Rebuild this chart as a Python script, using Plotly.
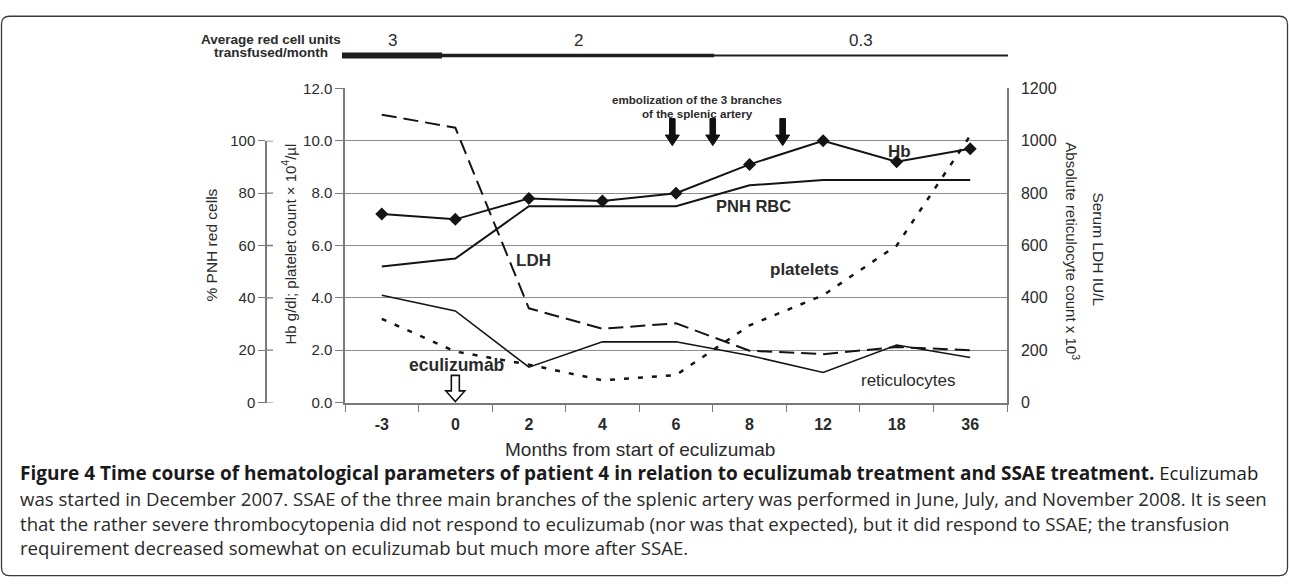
import plotly.graph_objects as go

# ---------------- data ----------------
months = ["-3", "0", "2", "4", "6", "8", "12", "18", "36"]
hb = [7.2, 7.0, 7.8, 7.7, 8.0, 9.1, 10.0, 9.2, 9.7]            # g/dl (left inner axis)
platelets = [3.2, 1.95, 1.45, 0.85, 1.05, 2.95, 4.1, 6.0, 10.2]  # x10^4/ul (left inner axis)
pnh_rbc = [52, 55, 75, 75, 75, 83, 85, 85, 85]                  # % PNH red cells (outer left axis)
ldh = [1100, 1050, 360, 282, 303, 198, 185, 212, 200]           # IU/L (right axis)
retic = [410, 350, 135, 232, 232, 180, 115, 220, 172]           # x10^3 (right axis)

hb_ticks = [0, 2, 4, 6, 8, 10, 12]
pnh_ticks = [0, 20, 40, 60, 80, 100]
right_ticks = [0, 200, 400, 600, 800, 1000, 1200]

transfusion_labels = ["3", "2", "0.3"]
caption_bold = ("Figure 4 Time course of hematological parameters of patient 4 in relation "
                "to eculizumab treatment and SSAE treatment.")
caption_lines = [
    " Eculizumab",
    "was started in December 2007. SSAE of the three main branches of the splenic artery was "
    "performed in June, July, and November 2008. It is seen",
    "that the rather severe thrombocytopenia did not respond to eculizumab (nor was that expected), "
    "but it did respond to SSAE; the transfusion",
    "requirement decreased somewhat on eculizumab but much more after SSAE.",
]

# ---------------- geometry helpers ----------------
W, H = 1290, 587
def px(x):
    return x / W
def py(y):
    return 1 - y / H

X0, X1, Y0, Y1 = 345, 1007, 406, 82  # plot area in pixels
CAT_W = (X1 - X0) / len(months)
def cat_px(idx):
    return X0 + (idx + 0.5) * CAT_W

AX = "#7a7a7a"
TXT = "#2b2b2b"
LINE = "#141414"
FONT = "Liberation Sans, Arial, sans-serif"

fig = go.Figure()

fig.add_trace(go.Scatter(x=months, y=pnh_rbc, yaxis="y3", mode="lines",
                         line=dict(color=LINE, width=2), name="PNH RBC", showlegend=False))
fig.add_trace(go.Scatter(x=months, y=ldh, yaxis="y2", mode="lines",
                         line=dict(color=LINE, width=2, dash="15px,7px"), name="LDH", showlegend=False))
fig.add_trace(go.Scatter(x=months, y=retic, yaxis="y2", mode="lines",
                         line=dict(color=LINE, width=1.6), name="reticulocytes", showlegend=False))
fig.add_trace(go.Scatter(x=months, y=platelets, yaxis="y", mode="lines",
                         line=dict(color=LINE, width=2.5, dash="5px,9px"), name="platelets",
                         showlegend=False))
fig.add_trace(go.Scatter(x=months, y=hb, yaxis="y", mode="lines+markers",
                         line=dict(color=LINE, width=2),
                         marker=dict(symbol="diamond", size=10, color=LINE),
                         name="Hb", showlegend=False))

fig.update_layout(
    width=W, height=H, autosize=False,
    margin=dict(l=0, r=0, t=0, b=0),
    paper_bgcolor="white", plot_bgcolor="rgba(0,0,0,0)",
    font=dict(family=FONT, color=TXT),
    xaxis=dict(
        domain=[px(X0), px(X1)], type="category", categoryorder="array", categoryarray=months,
        range=[-0.5, len(months) - 0.5], tickson="boundaries", ticks="outside", ticklen=8,
        tickcolor=AX, tickwidth=1.3, showline=True, linecolor=AX, linewidth=1.5,
        showgrid=False, zeroline=False, anchor="y",
        tickfont=dict(size=16, weight="bold", color=TXT, family="Liberation Sans Narrow, " + FONT),
        ticklabelstandoff=6,
    ),
    yaxis=dict(
        domain=[py(Y0), py(Y1)], range=[0, 12], tickvals=hb_ticks,
        ticktext=["%.1f" % v for v in hb_ticks], ticks="outside", ticklen=8, tickcolor=AX,
        showline=True, linecolor=AX, linewidth=1.5, showgrid=True, gridcolor="#8c8c8c",
        gridwidth=1.3, zeroline=False, tickfont=dict(size=15, color=TXT), anchor="x",
    ),
    yaxis2=dict(
        overlaying="y", side="right", range=[0, 1200], tickvals=right_ticks, ticks="",
        ticklen=0, showline=True, linecolor=AX, linewidth=1.5, showgrid=False, zeroline=False,
        tickfont=dict(size=16, color=TXT), anchor="x", ticklabelstandoff=9,
    ),
    yaxis3=dict(
        domain=[py(Y0), py(Y0 - (Y0 - Y1) * 100 / 120)], range=[0, 100], tickvals=pnh_ticks,
        ticks="outside", ticklen=7, tickcolor=AX, showline=True, linecolor=AX, linewidth=1.5,
        showgrid=False, zeroline=False, anchor="free", position=px(266),
        tickfont=dict(size=15, color=TXT),
    ),
)

shapes = []
# inner halves of the crossing ticks on the % axis
for v in pnh_ticks:
    shapes.append(dict(type="line", xref="paper", yref="y3", x0=px(266), x1=px(273), y0=v, y1=v,
                       line=dict(color=AX, width=1.3)))

# transfusion bar segments
bar_segments = [(342, 442, 6), (442, 714, 3.5), (714, 1008, 2)]
for (a, b, w) in bar_segments:
    shapes.append(dict(type="line", xref="paper", yref="paper", x0=px(a), x1=px(b),
                       y0=py(48), y1=py(48), line=dict(color="#1e1e1e", width=w)))

# embolization arrows (filled)
def down_arrow(cx, top, bot, half_shaft, half_head, head_len):
    hy = bot - head_len
    pts = [(cx - half_shaft, top), (cx + half_shaft, top), (cx + half_shaft, hy),
           (cx + half_head, hy), (cx, bot), (cx - half_head, hy), (cx - half_shaft, hy)]
    return "M " + " L ".join("%.5f,%.5f" % (px(x), py(y)) for x, y in pts) + " Z"

for idx in [3.95, 4.5, 5.45]:
    shapes.append(dict(type="path", xref="paper", yref="paper",
                       path=down_arrow(cat_px(idx), 113, 141, 2.8, 7, 11),
                       fillcolor="#111", line=dict(color="#111", width=1)))
# eculizumab hollow arrow
shapes.append(dict(type="path", xref="paper", yref="paper",
                   path=down_arrow(cat_px(1), 378, 405, 4, 9.5, 11),
                   fillcolor="white", line=dict(color="#111", width=1.6)))

# figure frame (rounded)
r = 8
L, T, R, B = 1.5, 7.5, 1287.5, 584.5
frame = ("M %f,%f L %f,%f Q %f,%f %f,%f L %f,%f Q %f,%f %f,%f L %f,%f Q %f,%f %f,%f L %f,%f Q %f,%f %f,%f Z" % (
    px(L), py(T + r), px(L), py(B - r), px(L), py(B), px(L + r), py(B),
    px(R - r), py(B), px(R), py(B), px(R), py(B - r),
    px(R), py(T + r), px(R), py(T), px(R - r), py(T),
    px(L + r), py(T), px(L), py(T), px(L), py(T + r)))
shapes.append(dict(type="path", xref="paper", yref="paper", path=frame,
                   line=dict(color="#3a3a3a", width=1.3)))

fig.update_layout(shapes=shapes)

ann = []
def text(x, y, s, size=15, bold=False, angle=0, xanchor="center", color=TXT, family=FONT):
    ann.append(dict(xref="paper", yref="paper", x=px(x), y=py(y), text=s, showarrow=False,
                    xanchor=xanchor, yanchor="middle", textangle=angle,
                    font=dict(size=size, color=color, family=family,
                              weight="bold" if bold else "normal")))

# axis titles
text(212, 244, "% PNH red cells", size=15.5, angle=-90)
text(289, 243, "Hb g/dl; platelet count × 10<sup>4</sup>/µl", size=15, angle=-90)
text(1073, 250, "Absolute reticulocyte count x 10<sup>3</sup>", size=15, angle=90)
text(1099, 248, "Serum LDH IU/L", size=15.5, angle=90)
text(640, 454, "Months from start of eculizumab", size=19)

# top transfusion header
text(271, 31, "Average red cell units", size=13.5, bold=True)
text(271, 45, "transfused/month", size=13.5, bold=True)
for (a, b, w), lab in zip(bar_segments, transfusion_labels):
    text((a + b) / 2, 32, lab, size=17)

# in-plot labels
text(697, 93, "embolization of the 3 branches", size=11.6, bold=True)
text(697, 108, "of the splenic artery", size=11.6, bold=True)
text(899, 147, "Hb", size=17, bold=True)
text(753, 203, "PNH RBC", size=16.5, bold=True)
text(533, 259, "LDH", size=17, bold=True)
text(804, 269, "platelets", size=17, bold=True)
text(457, 367, "eculizumab", size=17.5, bold=True)
text(908, 383, "reticulocytes", size=17)

# caption
CAP = "Open Sans, Noto Sans, sans-serif"
ann.append(dict(xref="paper", yref="paper", x=px(18), y=py(479), xanchor="left", yanchor="middle",
                showarrow=False,
                text="<b><span style='font-size:19px'>" + caption_bold + "</span></b>" + caption_lines[0],
                font=dict(size=18.6, color="#1a1a1a", family=CAP)))
for i, line in enumerate(caption_lines[1:]):
    ann.append(dict(xref="paper", yref="paper", x=px(18), y=py(505 + 25.3 * i), xanchor="left",
                    yanchor="middle", showarrow=False, text=line,
                    font=dict(size=18.6, color="#2a2a2a", family=CAP)))

fig.update_layout(annotations=ann)

fig.write_html(
    "out.html",
    config={"displayModeBar": False},
    post_script="document.body.style.margin='0';document.body.style.padding='0';"
                "document.documentElement.style.overflow='hidden';",
)
